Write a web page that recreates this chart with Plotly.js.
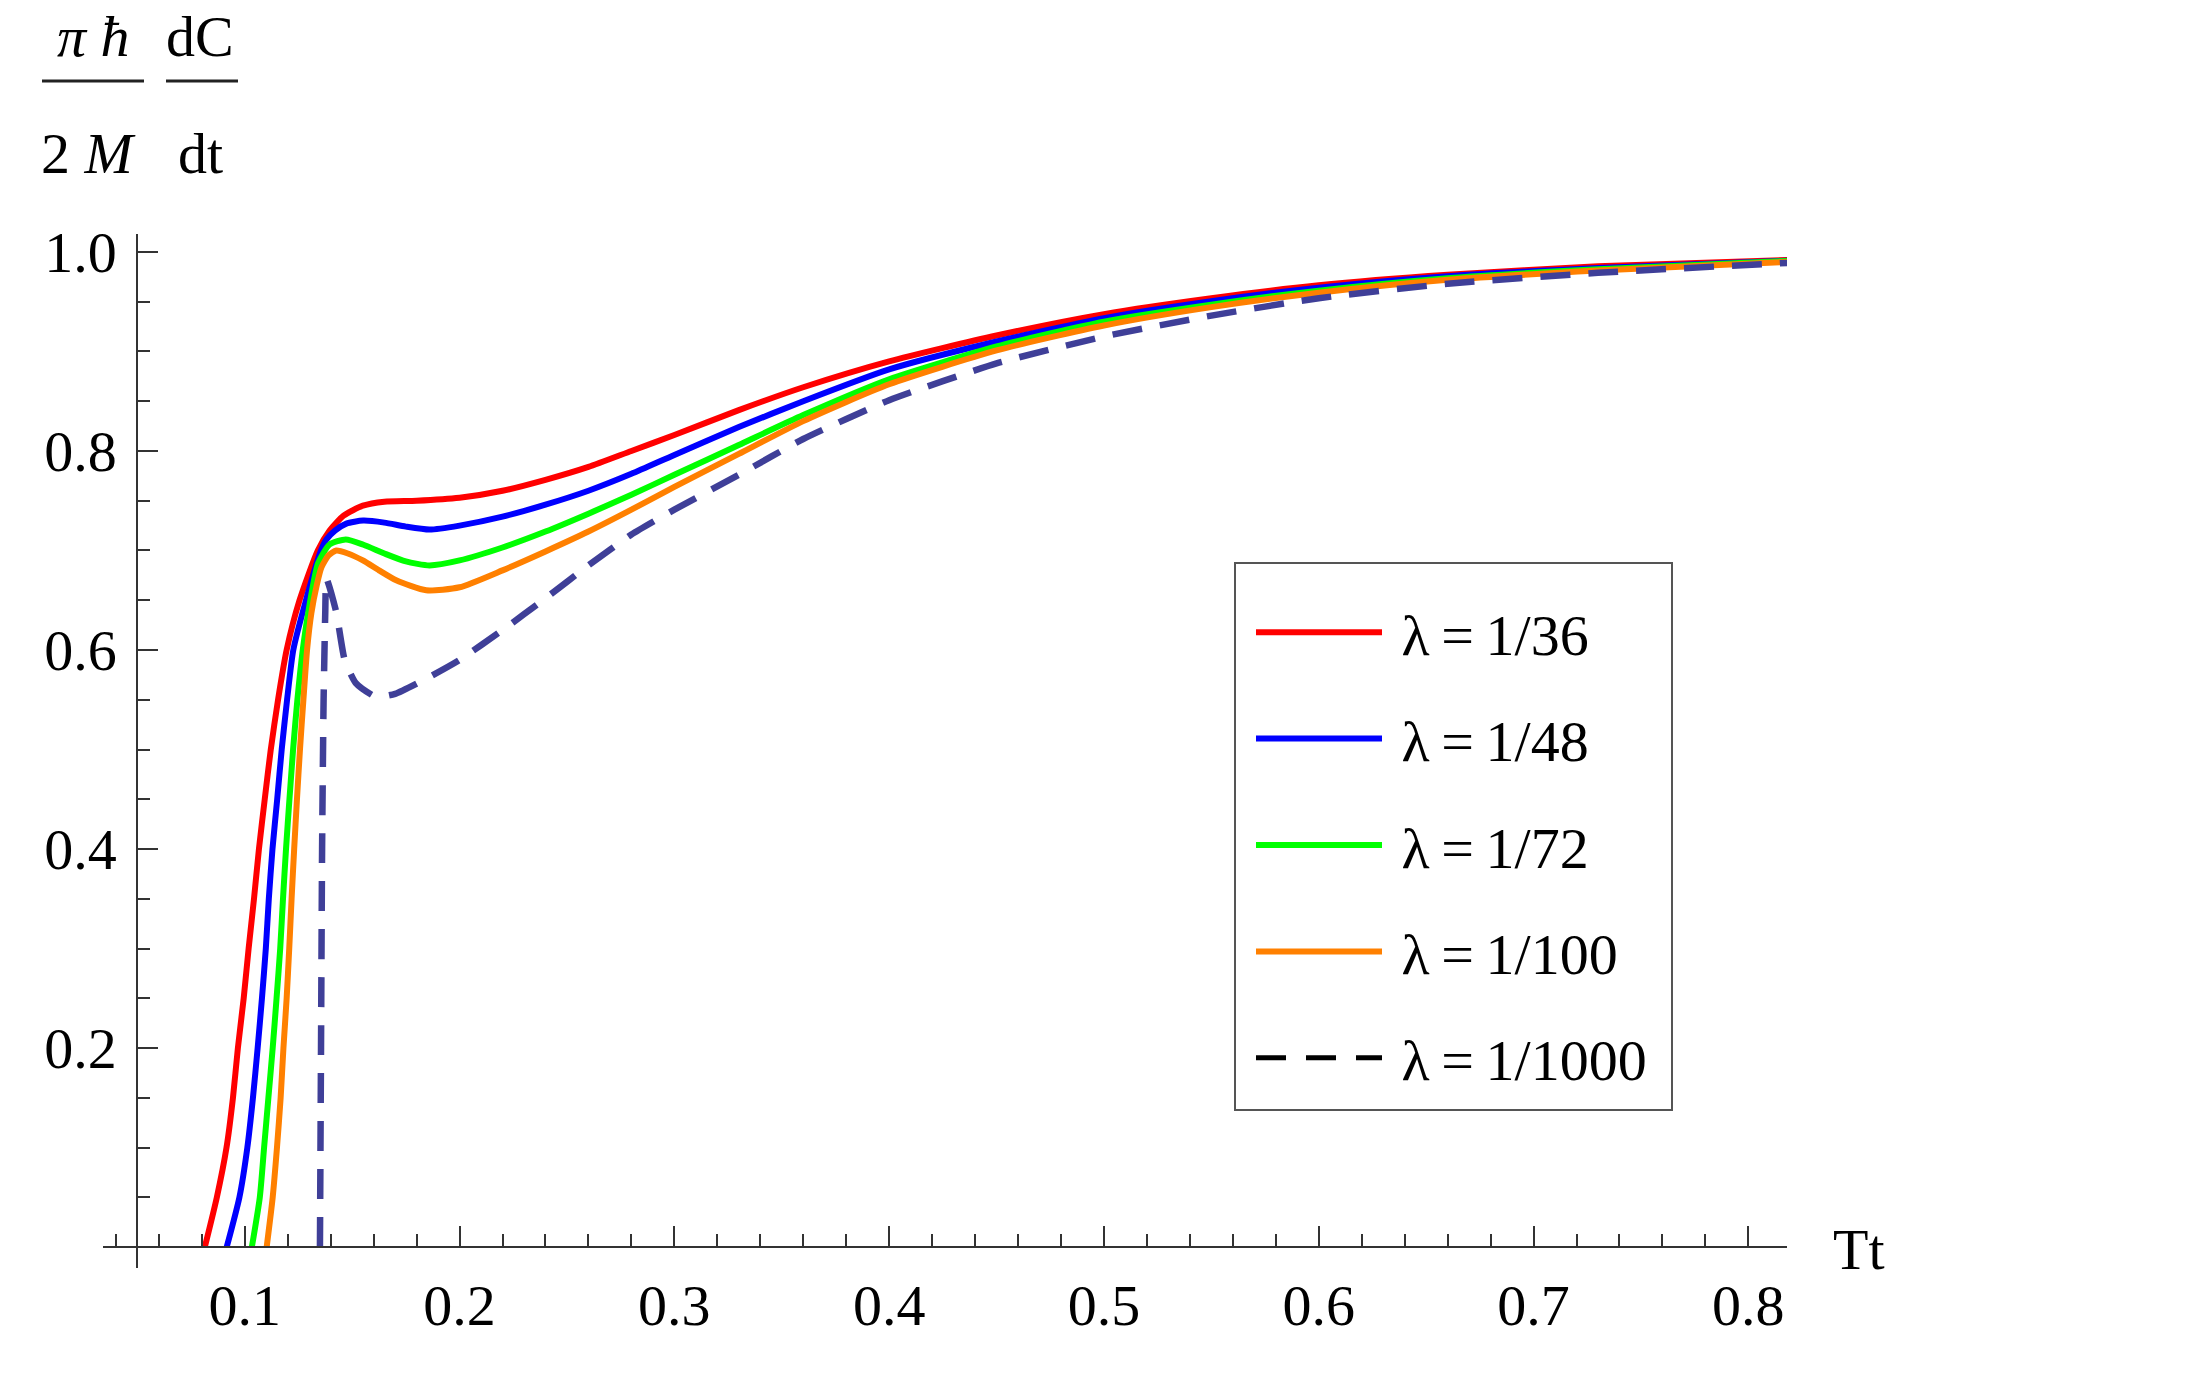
<!DOCTYPE html>
<html>
<head>
<meta charset="utf-8">
<script src="https://cdn.plot.ly/plotly-3.0.1.min.js"></script>
<style>
    html, body { margin: 0; padding: 0; background: #ffffff; }
    #chart { width: 2209px; height: 1376px; }
</style>
</head>
<body>
<div id="chart"></div>
<script>
// lambda = 1/36
const redX = [0.0814, 0.087, 0.0915, 0.0945, 0.0968, 0.0995, 0.1018, 0.1043, 0.1066, 0.1093, 0.1121, 0.1155, 0.1195, 0.1255, 0.134, 0.1395, 0.146, 0.155, 0.165, 0.18, 0.20, 0.22, 0.24, 0.26, 0.28, 0.30, 0.33, 0.36, 0.40, 0.45, 0.50, 0.55, 0.60, 0.66, 0.73, 0.8186];
const redY = [0, 0.05, 0.10, 0.15, 0.20, 0.25, 0.30, 0.35, 0.40, 0.45, 0.50, 0.55, 0.60, 0.65, 0.70, 0.720, 0.735, 0.745, 0.749, 0.750, 0.753, 0.760, 0.771, 0.784, 0.800, 0.816, 0.841, 0.864, 0.890, 0.916, 0.9375, 0.9535, 0.9665, 0.977, 0.9855, 0.992];

// lambda = 1/48
const blueX = [0.0916, 0.0975, 0.1012, 0.1038, 0.106, 0.108, 0.1098, 0.1112, 0.1129, 0.1151, 0.1172, 0.1197, 0.1226, 0.1285, 0.1355, 0.138, 0.142, 0.1473, 0.1551, 0.165, 0.175, 0.186, 0.20, 0.22, 0.24, 0.26, 0.28, 0.30, 0.33, 0.36, 0.40, 0.45, 0.50, 0.55, 0.60, 0.66, 0.73, 0.8186];
const blueY = [0, 0.05, 0.10, 0.15, 0.20, 0.25, 0.30, 0.35, 0.40, 0.45, 0.50, 0.55, 0.60, 0.65, 0.70, 0.711, 0.720, 0.727, 0.730, 0.728, 0.724, 0.721, 0.725, 0.734, 0.746, 0.760, 0.777, 0.796, 0.824, 0.850, 0.882, 0.910, 0.9335, 0.9505, 0.964, 0.9755, 0.9838, 0.9912];

// lambda = 1/72
const greenX = [0.1033, 0.107, 0.109, 0.111, 0.113, 0.1148, 0.1165, 0.1178, 0.1192, 0.1208, 0.1225, 0.1245, 0.127, 0.1295, 0.1341, 0.1395, 0.147, 0.155, 0.165, 0.175, 0.186, 0.20, 0.22, 0.24, 0.26, 0.28, 0.30, 0.33, 0.36, 0.40, 0.45, 0.50, 0.55, 0.60, 0.66, 0.73, 0.8186];
const greenY = [0, 0.05, 0.10, 0.15, 0.20, 0.25, 0.30, 0.35, 0.40, 0.45, 0.50, 0.55, 0.60, 0.637, 0.687, 0.706, 0.711, 0.706, 0.697, 0.689, 0.685, 0.690, 0.703, 0.719, 0.737, 0.756, 0.776, 0.806, 0.836, 0.872, 0.905, 0.930, 0.947, 0.961, 0.9735, 0.9825, 0.991];

// lambda = 1/100
const orangeX = [0.1102, 0.113, 0.115, 0.1167, 0.118, 0.1195, 0.1207, 0.1218, 0.123, 0.1243, 0.1257, 0.1273, 0.129, 0.131, 0.1335, 0.1357, 0.139, 0.1426, 0.148, 0.155, 0.1625, 0.1705, 0.1845, 0.20, 0.22, 0.24, 0.26, 0.28, 0.30, 0.33, 0.36, 0.40, 0.45, 0.50, 0.55, 0.60, 0.66, 0.73, 0.8186];
const orangeY = [0, 0.05, 0.10, 0.15, 0.20, 0.25, 0.30, 0.35, 0.40, 0.45, 0.50, 0.55, 0.60, 0.637, 0.665, 0.683, 0.695, 0.700, 0.697, 0.690, 0.680, 0.670, 0.660, 0.663, 0.680, 0.699, 0.719, 0.741, 0.764, 0.797, 0.830, 0.867, 0.901, 0.926, 0.9445, 0.959, 0.972, 0.9812, 0.990];

// lambda = 1/1000
const dashX = [0.135, 0.1355, 0.136, 0.1367, 0.1375, 0.138, 0.1426, 0.1465, 0.1516, 0.161, 0.17, 0.186, 0.20, 0.22, 0.24, 0.26, 0.28, 0.30, 0.33, 0.36, 0.40, 0.45, 0.50, 0.55, 0.60, 0.66, 0.73, 0.8186];
const dashY = [0, 0.20, 0.40, 0.55, 0.64, 0.672, 0.638, 0.590, 0.567, 0.553, 0.556, 0.573, 0.590, 0.620, 0.652, 0.685, 0.716, 0.741, 0.776, 0.812, 0.851, 0.888, 0.915, 0.936, 0.9535, 0.968, 0.979, 0.989];

const seriesNames = ["λ=1/36", "λ=1/48", "λ=1/72", "λ=1/100", "λ=1/1000"];
const xTickVals = [0.1, 0.2, 0.3, 0.4, 0.5, 0.6, 0.7, 0.8];
const xTickText = ["0.1", "0.2", "0.3", "0.4", "0.5", "0.6", "0.7", "0.8"];
const yTickVals = [0.2, 0.4, 0.6, 0.8, 1.0];
const yTickText = ["0.2", "0.4", "0.6", "0.8", "1.0"];

const W = 2209, H = 1376;
const margin = { l: 103, r: 422, t: 234, b: 108 };
const xRange = [0.034, 0.818];
const yRange = [-0.021, 1.018];
const serif = "\"Liberation Serif\", \"Times New Roman\", Times, serif";

// pixel -> paper helpers for the free-floating labels
const plotW = W - margin.l - margin.r;
const plotH = H - margin.t - margin.b;
const px = (x) => (x - margin.l) / plotW;
const py = (y) => (H - margin.b - y) / plotH;

// Mathematica puts thin spaces round "=", and a small gap after the swatch
const legendLabel = (name) => "\u2005" + name.replace("=", "\u2009=\u2009");

function curve(x, y, name, color, extra = {}) {
    return {
        type: "scatter",
        mode: "lines",
        x: x,
        y: y,
        name: legendLabel(name),
        legendgroup: name,
        line: { color: color, width: 6, shape: "spline", smoothing: 0.6, ...extra },
        hoverinfo: "skip",
    };
}

const traces = [
    curve(redX, redY, seriesNames[0], "#ff0000"),
    curve(blueX, blueY, seriesNames[1], "#0000ff"),
    curve(greenX, greenY, seriesNames[2], "#00ff00"),
    curve(orangeX, orangeY, seriesNames[3], "#ff8000"),
    { ...curve(dashX, dashY, seriesNames[4], "#3f3f98", { dash: "30px,18px", width: 6.5, smoothing: 0.5 }), showlegend: false },
    // legend sample for the dashed curve is black in the original
    {
        type: "scatter", mode: "lines", x: [null], y: [null],
        name: legendLabel(seriesNames[4]), legendgroup: "legend-dash",
        line: { color: "#000000", width: 5, dash: "30px,20px" },
        hoverinfo: "skip",
    },
];

const zeroY = (0 - yRange[0]) / (yRange[1] - yRange[0]);
const crossX = (0.05 - xRange[0]) / (xRange[1] - xRange[0]);

const axisCommon = {
    showgrid: false,
    zeroline: false,
    showline: true,
    linecolor: "#333333",
    linewidth: 2,
    ticks: "inside",
    ticklen: 20,
    tickwidth: 2,
    tickcolor: "#333333",
    tickmode: "array",
    tickfont: { family: serif, size: 58, color: "#000000" },
    anchor: "free",
};

const layout = {
    width: W,
    height: H,
    margin: margin,
    paper_bgcolor: "#ffffff",
    plot_bgcolor: "#ffffff",
    font: { family: serif, color: "#000000", size: 58 },
    xaxis: {
        ...axisCommon,
        range: xRange,
        tickvals: xTickVals,
        ticktext: xTickText,
        position: zeroY,
        ticklabelstandoff: 7,
        minor: { tickmode: "linear", tick0: 0, dtick: 0.02, ticks: "inside", ticklen: 12, tickwidth: 2, tickcolor: "#333333" },
    },
    yaxis: {
        ...axisCommon,
        range: yRange,
        tickvals: yTickVals,
        ticktext: yTickText,
        position: crossX,
        ticklabelstandoff: 8,
        minor: { tickmode: "linear", tick0: 0, dtick: 0.05, ticks: "inside", ticklen: 12, tickwidth: 2, tickcolor: "#333333" },
    },
    showlegend: true,
    legend: {
        x: px(1251),
        y: py(588),
        xanchor: "left",
        yanchor: "top",
        bgcolor: "rgba(0,0,0,0)",
        borderwidth: 0,
        font: { family: serif, size: 58, color: "#000000" },
        itemwidth: 126,
        tracegroupgap: 28,
        traceorder: "grouped",
    },
    annotations: [
        { text: "<i>π ħ</i>", x: px(93), y: py(36) },
        { text: "dC", x: px(200), y: py(36) },
        { text: "2 <i>M</i>", x: px(88), y: py(153) },
        { text: "dt", x: px(200), y: py(153) },
        { text: "Tt", x: px(1859), y: py(1249) },
    ].map((a) => ({
        ...a,
        xref: "paper",
        yref: "paper",
        xanchor: "center",
        yanchor: "middle",
        showarrow: false,
        font: { family: serif, size: 58, color: "#000000" },
    })),
    shapes: [
        // fraction bars of the y label
        ...[
            { x0: px(42), x1: px(144) },
            { x0: px(166), x1: px(238) },
        ].map((s) => ({
            ...s,
            type: "line",
            xref: "paper",
            yref: "paper",
            y0: py(81),
            y1: py(81),
            line: { color: "#222222", width: 3 },
        })),
        // legend frame
        {
            type: "rect",
            xref: "paper",
            yref: "paper",
            x0: px(1235),
            x1: px(1672),
            y0: py(563),
            y1: py(1110),
            line: { color: "#555555", width: 2 },
            fillcolor: "rgba(0,0,0,0)",
        },
    ],
};

Plotly.newPlot("chart", traces, layout, { displayModeBar: false, staticPlot: true });
</script>
</body>
</html>
